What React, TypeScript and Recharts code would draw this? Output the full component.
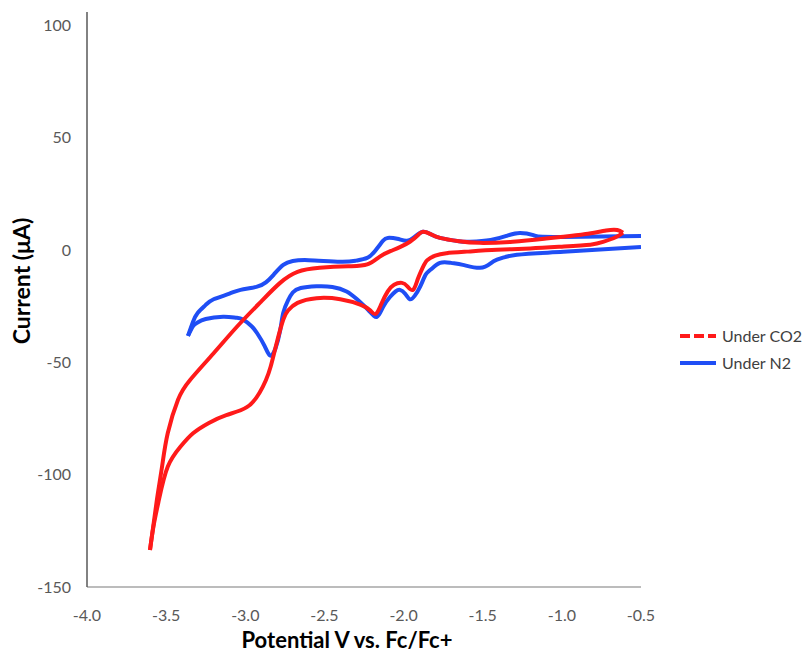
import React from 'react';
import { LineChart, Line, XAxis, YAxis, Label } from 'recharts';

// cyclic voltammograms, potential (V vs Fc/Fc+) against current (µA)
const co2Forward = [
    { v: -0.614, i: 7.6 }, { v: -0.66, i: 5.6 }, { v: -0.74, i: 3.5 }, { v: -0.82, i: 2.3 },
    { v: -1.0, i: 1.4 }, { v: -1.2, i: 0.6 }, { v: -1.41, i: 0 }, { v: -1.6, i: -0.8 },
    { v: -1.73, i: -1.5 }, { v: -1.8, i: -2.6 }, { v: -1.85, i: -4.6 }, { v: -1.88, i: -8 },
    { v: -1.91, i: -13 }, { v: -1.94, i: -17.8 }, { v: -1.975, i: -16.3 }, { v: -2.01, i: -14.7 },
    { v: -2.06, i: -15.5 }, { v: -2.1, i: -18.5 }, { v: -2.14, i: -24 }, { v: -2.175, i: -28.5 },
    { v: -2.21, i: -27 }, { v: -2.27, i: -24.5 }, { v: -2.4, i: -22 }, { v: -2.55, i: -21.5 },
    { v: -2.67, i: -23.6 }, { v: -2.73, i: -27 }, { v: -2.76, i: -31 }, { v: -2.8, i: -41 },
    { v: -2.84, i: -52 }, { v: -2.87, i: -58 }, { v: -2.91, i: -63.6 }, { v: -2.99, i: -70 },
    { v: -3.12, i: -73.5 }, { v: -3.23, i: -77 }, { v: -3.33, i: -81.6 }, { v: -3.41, i: -87.6 },
    { v: -3.49, i: -96.5 }, { v: -3.545, i: -111 }, { v: -3.58, i: -123 }, { v: -3.602, i: -133.5 }
];

const co2Reverse = [
    { v: -3.602, i: -133.5 }, { v: -3.558, i: -111 }, { v: -3.526, i: -96.5 }, { v: -3.49, i: -81.6 },
    { v: -3.425, i: -66.7 }, { v: -3.35, i: -58 }, { v: -3.2, i: -46 }, { v: -3.05, i: -34 },
    { v: -2.9, i: -23 }, { v: -2.78, i: -14.7 }, { v: -2.67, i: -9.8 }, { v: -2.53, i: -8 },
    { v: -2.35, i: -7.3 }, { v: -2.23, i: -6.5 }, { v: -2.15, i: -3 }, { v: -2.08, i: -0.5 },
    { v: -2.02, i: 1.3 }, { v: -1.96, i: 3.6 }, { v: -1.91, i: 6.5 }, { v: -1.878, i: 8 },
    { v: -1.83, i: 7 }, { v: -1.77, i: 5.3 }, { v: -1.65, i: 3.8 }, { v: -1.52, i: 3.1 },
    { v: -1.31, i: 3.6 }, { v: -1.1, i: 5 }, { v: -0.99, i: 5.8 }, { v: -0.85, i: 7 },
    { v: -0.72, i: 8.6 }, { v: -0.65, i: 8.8 }, { v: -0.614, i: 7.6 }
];

const n2Upper = [
    { v: -3.362, i: -38.3 }, { v: -3.33, i: -32 }, { v: -3.3, i: -28 }, { v: -3.25, i: -24.5 },
    { v: -3.2, i: -22 }, { v: -3.1, i: -19.5 }, { v: -3.03, i: -17.8 }, { v: -2.93, i: -16.5 },
    { v: -2.87, i: -14.5 }, { v: -2.82, i: -11 }, { v: -2.76, i: -6.7 }, { v: -2.7, i: -5 },
    { v: -2.6, i: -4.6 }, { v: -2.4, i: -5.3 }, { v: -2.3, i: -4.8 }, { v: -2.23, i: -3.6 },
    { v: -2.18, i: -0.5 }, { v: -2.13, i: 4 }, { v: -2.1, i: 5.3 }, { v: -2.04, i: 4.9 },
    { v: -1.98, i: 4 }, { v: -1.93, i: 5.8 }, { v: -1.878, i: 8 }, { v: -1.83, i: 7 },
    { v: -1.77, i: 5.3 }, { v: -1.65, i: 3.8 }, { v: -1.58, i: 3.6 }, { v: -1.45, i: 4.4 },
    { v: -1.35, i: 6.2 }, { v: -1.265, i: 7.5 }, { v: -1.18, i: 6.5 }, { v: -1.12, i: 5.8 },
    { v: -0.87, i: 5.8 }, { v: -0.5, i: 6.2 }
];

const n2Lower = [
    { v: -3.362, i: -38.3 }, { v: -3.33, i: -34 }, { v: -3.305, i: -32.5 }, { v: -3.25, i: -30.8 },
    { v: -3.14, i: -29.8 }, { v: -3.06, i: -30.2 }, { v: -3.015, i: -31 }, { v: -2.96, i: -34 },
    { v: -2.926, i: -37 }, { v: -2.88, i: -42.5 }, { v: -2.844, i: -47 }, { v: -2.81, i: -44 },
    { v: -2.78, i: -36 }, { v: -2.76, i: -28 }, { v: -2.73, i: -22.5 }, { v: -2.7, i: -19 },
    { v: -2.65, i: -17 }, { v: -2.55, i: -16.2 }, { v: -2.45, i: -16.5 }, { v: -2.36, i: -18.5 },
    { v: -2.294, i: -22 }, { v: -2.22, i: -27 }, { v: -2.168, i: -29.8 }, { v: -2.13, i: -25.5 },
    { v: -2.086, i: -21 }, { v: -2.05, i: -18.5 }, { v: -2.023, i: -17.8 }, { v: -1.99, i: -19.5 },
    { v: -1.96, i: -22 }, { v: -1.93, i: -20.5 }, { v: -1.896, i: -16.5 }, { v: -1.86, i: -11 },
    { v: -1.83, i: -8.9 }, { v: -1.77, i: -5.8 }, { v: -1.7, i: -5.8 }, { v: -1.625, i: -6.7 },
    { v: -1.517, i: -8 }, { v: -1.45, i: -6 }, { v: -1.41, i: -4.4 }, { v: -1.284, i: -2.2 },
    { v: -0.99, i: -0.9 }, { v: -0.5, i: 1.3 }
];

const xTicks = [-4.0, -3.5, -3.0, -2.5, -2.0, -1.5, -1.0, -0.5];
const yTicks = [-150, -100, -50, 0, 50, 100];

const RED = '#ff1a1a';
const BLUE = '#1f4ef5';
const FONT = 'Lato, "Open Sans", sans-serif';

const legendItems = [
    { name: 'Under CO2', color: RED, dash: '10 4' },
    { name: 'Under N2', color: BLUE, dash: undefined }
];

export default function App() {
    return (
        <div style={{ position: 'absolute', left: 0, top: 0, width: 806, height: 656, background: '#fff' }}>
            <LineChart width={806} height={656} margin={{ top: 12, right: 165, bottom: 0, left: 0 }}>
                <XAxis
                    type='number'
                    dataKey='v'
                    domain={[-4, -0.5]}
                    ticks={xTicks}
                    allowDataOverflow
                    tickFormatter={(t: number) => t.toFixed(1)}
                    tickLine={false}
                    tickMargin={17}
                    height={69}
                    axisLine={{ stroke: '#a6a6a6', strokeWidth: 1.5 }}
                    tick={{ fill: '#595959', fontSize: 16, fontFamily: FONT }}
                >
                    <Label
                        content={() => (
                            <text x={347} y={648} textAnchor='middle' fontFamily={FONT} fontWeight='bold' fontSize={22} fill='#000'>
                                Potential V vs. Fc/Fc+
                            </text>
                        )}
                    />
                </XAxis>
                <YAxis
                    type='number'
                    domain={[-150, 105.8]}
                    ticks={yTicks}
                    allowDataOverflow
                    tickLine={false}
                    tickMargin={10}
                    width={87}
                    axisLine={{ stroke: '#595959', strokeWidth: 1.5 }}
                    tick={{ fill: '#595959', fontSize: 16, fontFamily: FONT }}
                >
                    <Label
                        content={() => (
                            <text x={30} y={281} transform='rotate(-90 30 281)' textAnchor='middle' fontFamily={FONT} fontWeight='bold' fontSize={23} fill='#000'>
                                Current (μA)
                            </text>
                        )}
                    />
                </YAxis>
                <Line data={n2Upper} dataKey='i' type='natural' stroke={BLUE} strokeWidth={4} dot={false} isAnimationActive={false} />
                <Line data={n2Lower} dataKey='i' type='natural' stroke={BLUE} strokeWidth={4} dot={false} isAnimationActive={false} />
                <Line data={co2Forward} dataKey='i' type='natural' stroke={RED} strokeWidth={4} dot={false} isAnimationActive={false} />
                <Line data={co2Reverse} dataKey='i' type='natural' stroke={RED} strokeWidth={4} dot={false} isAnimationActive={false} />
            </LineChart>
            <div style={{ position: 'absolute', left: 679, top: 322, fontFamily: FONT, fontSize: 16, color: '#404040' }}>
                {legendItems.map((item) => (
                    <div key={item.name} style={{ display: 'flex', alignItems: 'center', height: 27 }}>
                        <svg width={38} height={10} style={{ marginRight: 5 }}>
                            <line x1={1} y1={5} x2={37} y2={5} stroke={item.color} strokeWidth={4} strokeDasharray={item.dash} />
                        </svg>
                        <span>{item.name}</span>
                    </div>
                ))}
            </div>
        </div>
    );
}
